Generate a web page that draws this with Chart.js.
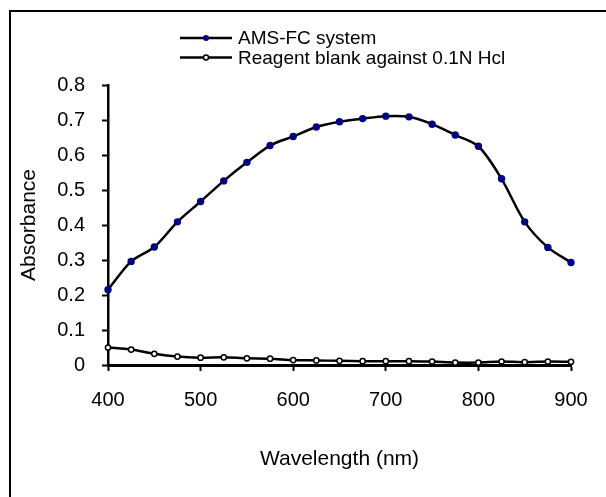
<!DOCTYPE html>
<html>
<head>
<meta charset="utf-8">
<script src="https://cdn.jsdelivr.net/npm/chart.js@4.4.0/dist/chart.umd.min.js"></script>
<style>
  html, body { margin: 0; padding: 0; background: #fff; }
  #wrap { width: 606px; height: 497px; position: relative; }
</style>
</head>
<body>
<div id="wrap"><canvas id="specChart" width="606" height="497"></canvas></div>
<script>
// wavelength scan, nm
const wavelengths = [400, 425, 450, 475, 500, 525, 550, 575, 600, 625, 650,
                     675, 700, 725, 750, 775, 800, 825, 850, 875, 900];
// absorbance
const amsFc = [0.215, 0.296, 0.337, 0.409, 0.467, 0.526, 0.579, 0.627, 0.653, 0.680, 0.695,
               0.704, 0.711, 0.709, 0.688, 0.657, 0.625, 0.532, 0.409, 0.336, 0.293];
const reagentBlank = [0.050, 0.044, 0.032, 0.024, 0.021, 0.022, 0.019, 0.018, 0.014, 0.013, 0.012,
                      0.011, 0.011, 0.011, 0.010, 0.007, 0.007, 0.010, 0.008, 0.010, 0.009];
const seriesNames = ['AMS-FC system', 'Reagent blank against 0.1N Hcl'];
const xTitle = 'Wavelength (nm)';
const yTitle = 'Absorbance';

const fontFam = '"Liberation Sans", Arial, sans-serif';

function toPoints(ys) {
  return wavelengths.map((w, i) => ({ x: w, y: ys[i] }));
}

// frame around the figure (only left and top show in the picture)
const framePlugin = {
  id: 'frame',
  beforeDraw(chart) {
    const ctx = chart.ctx;
    ctx.save();
    ctx.fillStyle = '#fff';
    ctx.fillRect(0, 0, chart.width, chart.height);
    ctx.strokeStyle = '#000';
    ctx.lineWidth = 2;
    ctx.beginPath();
    ctx.moveTo(10, chart.height + 5);
    ctx.lineTo(10, 11);
    ctx.lineTo(chart.width + 5, 11);
    ctx.stroke();
    ctx.restore();
  }
};

// excel style legend: line with marker in the middle
const lineLegend = {
  id: 'lineLegend',
  afterDraw(chart) {
    const ctx = chart.ctx;
    const rows = [38, 57.5];
    ctx.save();
    chart.data.datasets.forEach((ds, i) => {
      const y = rows[i];
      ctx.strokeStyle = ds.borderColor;
      ctx.lineWidth = 2.5;
      ctx.beginPath();
      ctx.moveTo(180, y);
      ctx.lineTo(232, y);
      ctx.stroke();
      ctx.beginPath();
      ctx.arc(206, y, i === 0 ? 3 : 2.5, 0, Math.PI * 2);
      ctx.fillStyle = ds.pointBackgroundColor;
      ctx.fill();
      if (i === 1) {
        ctx.lineWidth = 1.5;
        ctx.strokeStyle = '#000';
        ctx.stroke();
      }
      ctx.fillStyle = '#000';
      ctx.font = '19px ' + fontFam;
      ctx.textBaseline = 'middle';
      ctx.textAlign = 'left';
      ctx.fillText(ds.label, 238, y + 1);
    });
    ctx.restore();
  }
};

const specChart = new Chart(document.getElementById('specChart'), {
  type: 'line',
  data: {
    datasets: [{
      label: seriesNames[0],
      data: toPoints(amsFc),
      borderColor: '#000',
      borderWidth: 2.5,
      pointRadius: 3.7,
      pointBackgroundColor: '#000080',
      pointBorderColor: '#000080',
      pointBorderWidth: 0,
      tension: 0.3,
      clip: false
    }, {
      label: seriesNames[1],
      data: toPoints(reagentBlank),
      borderColor: '#000',
      borderWidth: 2.5,
      pointRadius: 2.6,
      pointBackgroundColor: '#fff',
      pointBorderColor: '#000',
      pointBorderWidth: 1.5,
      tension: 0.3,
      clip: false
    }]
  },
  options: {
    responsive: false,
    animation: false,
    layout: { padding: { top: 85, right: 35, left: 0, bottom: 0 } },
    plugins: {
      legend: { display: false },
      tooltip: { enabled: false }
    },
    scales: {
      x: {
        type: 'linear',
        min: 400,
        max: 900,
        afterFit(scale) { scale.height = 132; },
        ticks: {
          stepSize: 100,
          color: '#000',
          padding: 17,
          font: { family: fontFam, size: 20 }
        },
        grid: {
          drawOnChartArea: false,
          tickLength: 6,
          tickColor: '#000',
          tickWidth: 2
        },
        border: { display: true, color: '#000', width: 3 },
        title: {
          display: true,
          text: xTitle,
          color: '#000',
          font: { family: fontFam, size: 21 },
          padding: { top: 0, bottom: 25.4 }
        }
      },
      y: {
        min: 0,
        max: 0.8,
        afterFit(scale) { scale.width = 108; },
        ticks: {
          stepSize: 0.1,
          color: '#000',
          padding: 17,
          font: { family: fontFam, size: 20 },
          callback: (v) => Math.round(v * 10) / 10
        },
        grid: {
          drawOnChartArea: false,
          tickLength: 6,
          tickColor: '#000',
          tickWidth: 2
        },
        border: { display: true, color: '#000', width: 2.5 },
        title: {
          display: true,
          text: yTitle,
          color: '#000',
          font: { family: fontFam, size: 21 },
          padding: { top: 16.4, bottom: 0 }
        }
      }
    }
  },
  plugins: [framePlugin, lineLegend]
});
</script>
</body>
</html>
